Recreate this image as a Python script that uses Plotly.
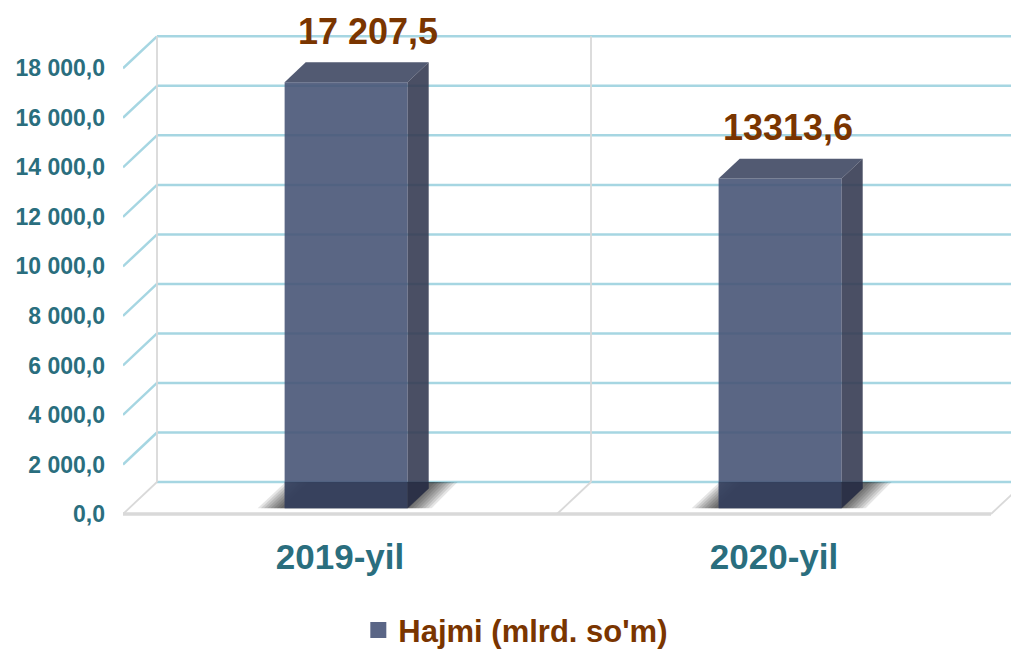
import plotly.graph_objects as go

# ---------------- data ----------------
CATEGORIES = ["2019-yil", "2020-yil"]
VALUES = [17207.5, 13313.6]
VALUE_LABELS = ["17 207,5", "13313,6"]
TICK_VALUES = [0, 2000, 4000, 6000, 8000, 10000, 12000, 14000, 16000, 18000]
TICK_LABELS = ["0,0", "2 000,0", "4 000,0", "6 000,0", "8 000,0", "10 000,0",
               "12 000,0", "14 000,0", "16 000,0", "18 000,0"]
SERIES_NAME = "Hajmi (mlrd. so'm)"

# ---------------- style / layout ----------------
W, H = 1011, 651
M_L, M_R, M_T, M_B = 123, 0, 0, 131
PLOT_W = W - M_L - M_R
PLOT_H = H - M_T - M_B
PX_PER_CAT = 434.0
PX_PER_VAL = 0.02476
ZERO_ABOVE_BOTTOM_PX = 6
DEPTH_PX = (34.0, 32.0)
BAR_W_PX = 123.0
BAR_D0, BAR_D1 = 0.18, 0.80
LABEL_XSHIFT = [1, -13]
LABEL_YSHIFT = 31

FONT = "Liberation Sans, Arial, sans-serif"
TEAL = "#2A6E7E"
BROWN = "#7A3500"
GRID_BLUE = "#A6D6E2"
GRAY = "#D9D9D9"
FRONT = "rgba(72,85,119,0.9)"
TOP = "rgba(63,72,99,0.9)"
SIDE = "rgba(54,60,83,0.9)"
LEGEND_SQ = "#5A6686"


def ux(px):
    return px / PX_PER_CAT


def uy(px):
    return px / PX_PER_VAL


def path(pts):
    return "M " + " L ".join(f"{x},{y}" for x, y in pts) + " Z"


DX, DY = ux(DEPTH_PX[0]), uy(DEPTH_PX[1])
X0 = -0.5
X_MAX = X0 + ux(PLOT_W)
Y_MIN = -uy(ZERO_ABOVE_BOTTOM_PX)
Y_MAX = Y_MIN + uy(PLOT_H)
N = len(CATEGORIES)
TOP_TICK = max(TICK_VALUES)

fig = go.Figure()
shapes = []

# back-wall gridlines and left-wall diagonals (blue), drawn below the bars
for v in TICK_VALUES:
    shapes.append(dict(type="line", xref="x", yref="y", x0=X0 + DX, x1=X_MAX + 1, y0=v + DY, y1=v + DY,
                       line=dict(color=GRID_BLUE, width=2.5), layer="below"))
    if v > 0:
        shapes.append(dict(type="line", xref="x", yref="y", x0=X0, x1=X0 + DX, y0=v, y1=v + DY,
                           line=dict(color=GRID_BLUE, width=2.5), layer="below"))

# gray frame: back-wall verticals and floor
for k in range(N):
    shapes.append(dict(type="line", xref="x", yref="y", x0=X0 + k + DX, x1=X0 + k + DX, y0=DY,
                       y1=TOP_TICK + DY, line=dict(color=GRAY, width=1.8), layer="below"))
for k in range(N + 1):
    shapes.append(dict(type="line", xref="x", yref="y", x0=X0 + k, x1=X0 + k + DX, y0=0, y1=DY,
                       line=dict(color=GRAY, width=1.8), layer="below"))
shapes.append(dict(type="line", xref="x", yref="y", x0=X0, x1=X0 + N, y0=0, y1=0,
                   line=dict(color=GRAY, width=3.5), layer="below"))

bw = ux(BAR_W_PX)
ddx, ddy = (BAR_D1 - BAR_D0) * DX, (BAR_D1 - BAR_D0) * DY
base = BAR_D0 * DY

# blurred floor shadows (layers)
for i, v in enumerate(VALUES):
    cx = i + BAR_D0 * DX
    xl, xr = cx - bw / 2, cx + bw / 2
    for layer in range(8):
        s = ux(3.2 * layer)
        pts = [(xl - ux(27) + s, base), (xr + ux(24) - s, base),
               (xr + ux(50) - s, DY), (xl + ux(1) + s, DY)]
        shapes.append(dict(type="path", xref="x", yref="y", path=path(pts),
                           fillcolor="rgba(0,0,0,0.1)", line=dict(width=0), layer="below"))

# front faces of the bars
fig.add_trace(go.Bar(x=[i + BAR_D0 * DX for i in range(N)], y=VALUES, base=base, width=bw,
                     marker=dict(color=FRONT, line=dict(width=0)), showlegend=False,
                     hoverinfo="skip"))

# top and side faces
for i, v in enumerate(VALUES):
    cx = i + BAR_D0 * DX
    xl, xr = cx - bw / 2, cx + bw / 2
    yt = v + base
    fig.add_trace(go.Scatter(x=[xl, xr, xr + ddx, xl + ddx, xl], y=[yt, yt, yt + ddy, yt + ddy, yt],
                             mode="lines", fill="toself", fillcolor=TOP, line=dict(width=0),
                             hoverinfo="skip", showlegend=False))
    fig.add_trace(go.Scatter(x=[xr, xr, xr + ddx, xr + ddx, xr], y=[base, yt, yt + ddy, base + ddy, base],
                             mode="lines", fill="toself", fillcolor=SIDE, line=dict(width=0),
                             hoverinfo="skip", showlegend=False))
    # shadow darkening the lower part of the bar
    fig.add_trace(go.Scatter(x=[xl, xr, xr + ddx, xr + ddx, xl, xl],
                             y=[base, base, base + ddy, DY, DY, base],
                             mode="lines", fill="toself", fillcolor="rgba(10,15,40,0.3)",
                             line=dict(width=0), hoverinfo="skip", showlegend=False))

# legend entry
fig.add_trace(go.Scatter(x=[None], y=[None], mode="markers", name=SERIES_NAME,
                         marker=dict(symbol="square", size=18, color=LEGEND_SQ)))

# data labels
for i, v in enumerate(VALUES):
    fig.add_annotation(x=i + BAR_D0 * DX + ddx, y=v + base + ddy, text=VALUE_LABELS[i],
                       showarrow=False, xanchor="center", yanchor="middle",
                       xshift=LABEL_XSHIFT[i], yshift=LABEL_YSHIFT,
                       font=dict(family=FONT, size=36, color=BROWN, weight="bold"))

fig.update_layout(
    width=W, height=H,
    margin=dict(l=M_L, r=M_R, t=M_T, b=M_B, autoexpand=False),
    paper_bgcolor="white", plot_bgcolor="white",
    barmode="overlay",
    shapes=shapes,
    showlegend=True,
    legend=dict(orientation="h", x=0.265, xanchor="left", y=-0.212, yanchor="middle",
                font=dict(family=FONT, size=31, color=BROWN, weight="bold"),
                bgcolor="rgba(0,0,0,0)", itemclick=False),
    xaxis=dict(range=[X0, X_MAX], tickvals=list(range(N)), ticktext=CATEGORIES,
               showgrid=False, zeroline=False, showline=False, ticks="", automargin=False,
               tickfont=dict(family=FONT, size=35, color=TEAL, weight="bold"),
               ticklabelstandoff=13, fixedrange=True),
    yaxis=dict(range=[Y_MIN, Y_MAX], tickvals=TICK_VALUES, ticktext=TICK_LABELS,
               showgrid=False, zeroline=False, showline=False, ticks="", automargin=False,
               tickfont=dict(family=FONT, size=23, color=TEAL, weight="bold"),
               ticklabelstandoff=17, fixedrange=True),
)

fig.write_html("out.html", config={"displayModeBar": False},
               post_script="document.body.style.margin='0px';")
